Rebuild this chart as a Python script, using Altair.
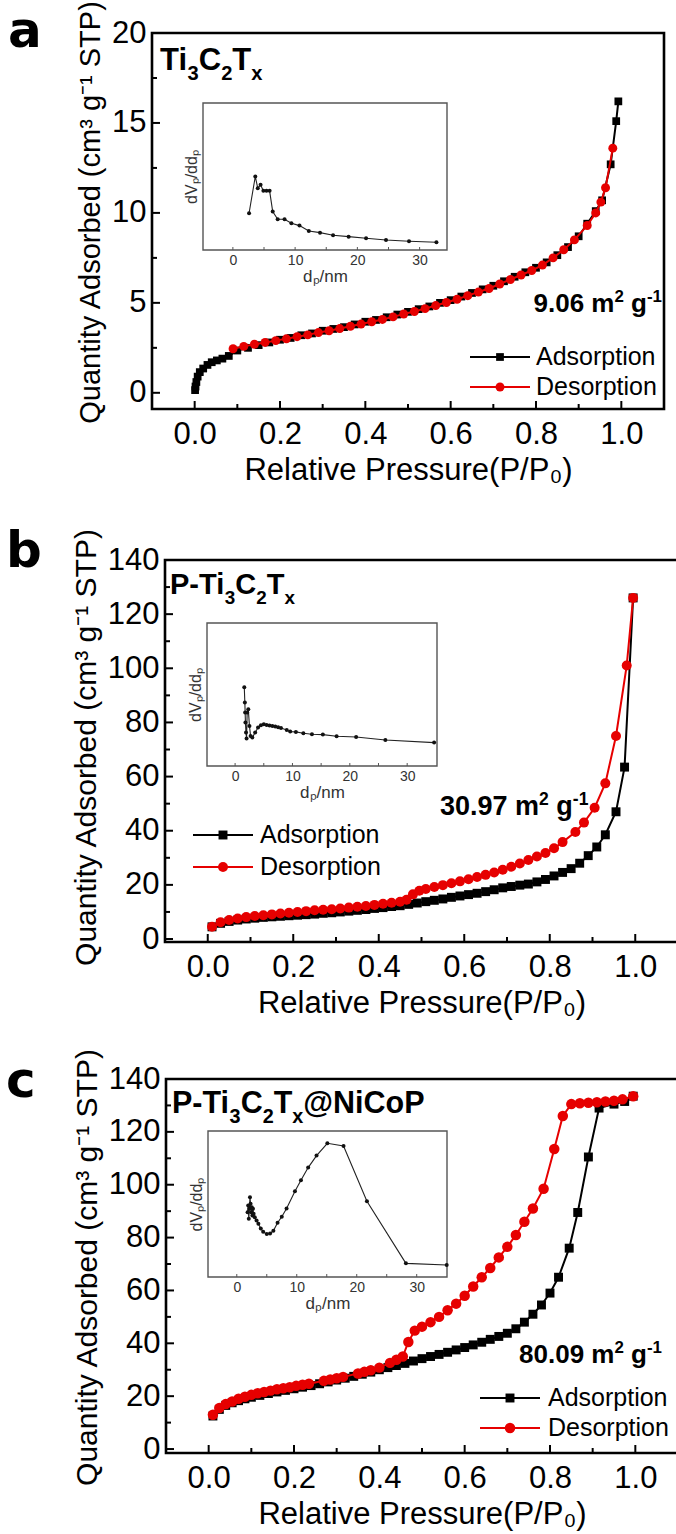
import altair as alt
import pandas as pd

# ------------------------------------------------------------------ data
A_ads_x = [0.001, 0.002, 0.004, 0.007, 0.012, 0.02, 0.03, 0.04, 0.052, 0.065, 0.08,
           0.1, 0.125, 0.15, 0.175, 0.2, 0.225, 0.25, 0.275, 0.3, 0.325, 0.35, 0.375,
           0.4, 0.425, 0.45, 0.475, 0.5, 0.525, 0.55, 0.575, 0.6, 0.625, 0.65, 0.675,
           0.7, 0.725, 0.75, 0.775, 0.8, 0.825, 0.85, 0.875, 0.9, 0.92, 0.94, 0.955,
           0.975, 0.988, 0.993]
A_ads_y = [0.15, 0.35, 0.6, 0.9, 1.15, 1.35, 1.55, 1.7, 1.8, 1.9, 2.05,
           2.35, 2.5, 2.65, 2.8, 2.95, 3.05, 3.2, 3.3, 3.45, 3.55, 3.65, 3.8,
           3.95, 4.05, 4.2, 4.35, 4.5, 4.65, 4.8, 5.0, 5.15, 5.35, 5.55, 5.75,
           5.95, 6.2, 6.45, 6.7, 6.95, 7.25, 7.65, 8.1, 8.7, 9.4, 10.1, 10.7,
           12.7, 15.1, 16.2]
A_des_x = [0.09, 0.115, 0.14, 0.165, 0.19, 0.215, 0.24, 0.265, 0.29, 0.315, 0.34,
           0.365, 0.39, 0.415, 0.44, 0.465, 0.49, 0.515, 0.54, 0.565, 0.59, 0.615,
           0.64, 0.665, 0.69, 0.715, 0.74, 0.765, 0.79, 0.815, 0.84, 0.865, 0.89,
           0.92, 0.94, 0.952, 0.963, 0.98]
A_des_y = [2.45, 2.58, 2.7, 2.8, 2.9, 3.0, 3.12, 3.22, 3.35, 3.45, 3.57,
           3.7, 3.82, 3.95, 4.08, 4.22, 4.38, 4.52, 4.68, 4.85, 5.02, 5.2,
           5.4, 5.6, 5.8, 6.05, 6.3, 6.55, 6.8, 7.1, 7.5, 7.95, 8.5,
           9.3, 10.0, 10.6, 11.4, 13.6]
A_psd_x = [2.6, 3.6, 4.0, 4.45, 4.9, 5.4, 5.9, 6.4, 7.2, 8.3, 9.4, 10.7, 12.2, 14.0,
           16.1, 18.6, 21.4, 24.6, 28.3, 32.7]
A_psd_y = [110, 220, 185, 195, 177, 177, 177, 115, 92, 92, 80, 73, 57, 52,
           44, 40, 35, 30, 26, 23]

B_ads_x = [0.01, 0.03, 0.05, 0.07, 0.09, 0.11, 0.13, 0.15, 0.17, 0.19, 0.21, 0.23,
           0.25, 0.27, 0.29, 0.31, 0.33, 0.35, 0.37, 0.39, 0.41, 0.43, 0.45, 0.47,
           0.49, 0.51, 0.53, 0.55, 0.57, 0.59, 0.61, 0.63, 0.65, 0.67, 0.69, 0.71,
           0.73, 0.75, 0.77, 0.79, 0.81, 0.83, 0.85, 0.87, 0.89, 0.91, 0.93,
           0.955, 0.975, 0.995]
B_ads_y = [4.5, 5.8, 6.5, 7.0, 7.4, 7.7, 8.0, 8.2, 8.4, 8.6, 8.8, 9.0,
           9.2, 9.5, 9.7, 10.0, 10.3, 10.6, 10.9, 11.3, 11.6, 12.0, 12.3, 12.8,
           13.3, 13.8, 14.3, 14.8, 15.4, 15.9, 16.4, 16.9, 17.5, 18.2, 18.9, 19.4,
           19.9, 20.3, 21.1, 22.0, 23.3, 24.6, 26.0, 28.0, 30.8, 34.0, 38.5,
           47.0, 63.5, 126.0]
B_des_x = [0.01, 0.03, 0.05, 0.07, 0.09, 0.11, 0.13, 0.15, 0.17, 0.19, 0.21, 0.23,
           0.25, 0.27, 0.29, 0.31, 0.33, 0.35, 0.37, 0.39, 0.41, 0.43, 0.45,
           0.465, 0.48, 0.495, 0.51, 0.53, 0.55, 0.57, 0.59, 0.61, 0.63, 0.65,
           0.67, 0.69, 0.71, 0.73, 0.75, 0.77, 0.79, 0.81, 0.83, 0.86, 0.88,
           0.905, 0.93, 0.955, 0.98, 0.995]
B_des_y = [4.5, 6.2, 7.0, 7.6, 8.1, 8.5, 8.8, 9.1, 9.4, 9.7, 10.0, 10.3,
           10.6, 10.8, 11.0, 11.3, 11.6, 11.9, 12.2, 12.6, 13.0, 13.4, 13.8,
           14.5, 16.5, 17.8, 18.5, 19.2, 19.9, 20.6, 21.3, 22.1, 22.9, 23.7,
           24.6, 25.6, 26.7, 27.9, 29.2, 30.5, 31.8, 33.5, 35.8, 39.5, 43.0,
           48.5, 57.5, 75.0, 101.0, 126.0]
B_psd_x = [1.6, 1.7, 1.75, 1.8, 1.9, 2.0, 2.1, 2.3, 2.5, 2.7, 3.0, 3.5, 4.0, 4.5, 5.0,
           5.5, 6.0, 6.5, 7.0, 7.5, 8.0, 9.0, 9.6, 10.6, 11.9, 13.4, 15.3, 17.7,
           21.1, 26.2, 34.7]
B_psd_y = [236, 190, 160, 130, 100, 82, 160, 170, 120, 90, 85, 100, 115, 122, 125,
           123, 121, 120, 118, 116, 114, 108, 103, 102, 98, 95, 94, 89,
           87, 78, 70]

C_ads_x = [0.01, 0.025, 0.04, 0.055, 0.07, 0.085, 0.1, 0.12, 0.14, 0.16, 0.18, 0.2,
           0.22, 0.24, 0.26, 0.28, 0.3, 0.32, 0.34, 0.36, 0.38, 0.4, 0.42, 0.44,
           0.46, 0.48, 0.5, 0.52, 0.54, 0.56, 0.58, 0.6, 0.62, 0.64, 0.66, 0.68,
           0.7, 0.72, 0.74, 0.76, 0.78, 0.8, 0.82, 0.845, 0.865, 0.89, 0.915,
           0.95, 0.975, 0.995]
C_ads_y = [12.5, 15.0, 16.5, 17.5, 18.3, 19.0, 19.6, 20.3, 21.0, 21.6, 22.2, 22.8,
           23.4, 24.0, 24.7, 25.4, 26.1, 26.8, 27.5, 28.3, 29.1, 30.0, 30.8, 31.6,
           32.4, 33.3, 34.2, 35.0, 35.8, 36.6, 37.5, 38.4, 39.4, 40.4, 41.5, 42.6,
           43.8, 45.5, 48.0, 51.0, 54.5, 59.0, 65.0, 76.0, 89.5, 110.5, 129.0,
           130.5, 131.5, 133.5]
C_des_x = [0.01, 0.025, 0.04, 0.055, 0.07, 0.085, 0.1, 0.115, 0.13, 0.145, 0.16,
           0.175, 0.19, 0.205, 0.22, 0.235, 0.27, 0.285, 0.3, 0.315, 0.35, 0.365,
           0.38, 0.4, 0.425, 0.44, 0.455, 0.468, 0.483, 0.5, 0.52, 0.54, 0.56,
           0.58, 0.6, 0.62, 0.64, 0.66, 0.68, 0.7, 0.72, 0.74, 0.76, 0.785, 0.81,
           0.83, 0.85, 0.87, 0.89, 0.91, 0.93, 0.95, 0.97, 0.995]
C_des_y = [13.0, 15.5, 17.0, 18.0, 19.0, 19.8, 20.5, 21.1, 21.6, 22.1, 22.6,
           23.0, 23.4, 23.9, 24.3, 24.7, 25.8, 26.3, 26.8, 27.3, 28.6, 29.2,
           29.8, 30.8, 32.6, 33.8, 35.0, 40.5, 44.8, 46.3, 48.0, 50.0, 52.5,
           55.0, 58.0, 61.5, 65.0, 68.5, 72.5, 76.5, 81.0, 86.0, 91.0, 98.5, 113.5,
           126.0, 130.5, 130.8, 131.0, 131.2, 131.5, 131.8, 132.3, 133.5]
C_psd_x = [1.8, 1.9, 2.0, 2.1, 2.2, 2.3, 2.4, 2.5, 2.6, 2.7, 2.8, 3.0, 3.3, 3.6, 4.0,
           4.4, 5.0, 5.55, 6.1, 6.8, 7.5, 8.3, 9.7, 10.7, 11.9, 13.3, 15.1, 17.8,
           21.7, 28.2, 35.0]
C_psd_y = [195, 215, 175, 205, 240, 220, 195, 210, 185, 205, 190, 180, 170, 160, 146,
           136, 129, 131, 139, 163, 181, 206, 258, 291, 329, 365, 402, 394,
           228, 41, 36]

X_TICKS_MAJOR = [0.0, 0.2, 0.4, 0.6, 0.8, 1.0]
X_TICKS_MINOR = [0.1, 0.3, 0.5, 0.7, 0.9]
A_Y_MAJOR = [0, 5, 10, 15, 20]
A_Y_MINOR = [2.5, 7.5, 12.5, 17.5]
BC_Y_MAJOR = [0, 20, 40, 60, 80, 100, 120, 140]
BC_Y_MINOR = [10, 30, 50, 70, 90, 110, 130]
INSET_X_LABELS = [0, 10, 20, 30]
INSET_X_TICKS = [0, 5, 10, 15, 20, 25, 30]
LEGEND_LABELS = ["Adsorption", "Desorption"]
PANEL_LETTERS = ["a", "b", "c"]

# ------------------------------------------------------------------ style
FONT = "Liberation Sans"
RED = "#e60000"
FULL_W, FULL_H = 676, 1534
ONE = alt.Data(values=[{}])

REG_W = {"0": 556, "1": 556, "2": 556, "3": 556, "4": 556, "5": 556, "6": 556,
         "7": 556, "8": 556, "9": 556, ".": 278, " ": 278, "m": 833, "g": 556,
         "T": 611, "i": 222, "C": 722, "P": 667, "-": 333, "@": 1015, "N": 722,
         "o": 556, "x": 500}
BOLD_W = {"0": 556, "1": 556, "2": 556, "3": 556, "4": 556, "5": 556, "6": 556,
          "7": 556, "8": 556, "9": 556, ".": 278, " ": 278, "m": 889, "g": 611,
          "T": 611, "i": 278, "C": 722, "P": 667, "-": 333, "@": 975, "N": 722,
          "o": 611, "x": 556}


def text_width(s, size, bold):
    tab = BOLD_W if bold else REG_W
    return sum(tab.get(ch, 556) for ch in s) / 1000.0 * size


def rich(segments, x, y, size, bold=True, align="left"):
    parts, total = [], 0.0
    for txt, kind in segments:
        fs = size if kind == "n" else size * 0.65
        lead = len(txt) - len(txt.lstrip(" "))
        core = txt.strip(" ")
        gap = text_width(" " * lead, fs, bold)
        w = text_width(core, fs, bold)
        parts.append((core, kind, fs, gap, w))
        total += gap + w
    cx = x if align == "left" else x - total
    out = []
    for core, kind, fs, gap, w in parts:
        cx += gap
        dy = 0 if kind == "n" else (size * 0.33 if kind == "sub" else -size * 0.38)
        out.append(
            alt.Chart(ONE).mark_text(
                text=core, font=FONT, fontSize=fs,
                fontWeight="bold" if bold else "normal",
                align="left", baseline="alphabetic", color="black",
            ).encode(x=alt.value(cx), y=alt.value(y + dy))
        )
        cx += w
    return out


def legend(x0, x1, xt, ys, sq, ci):
    out = []
    specs = [(LEGEND_LABELS[0], "black", "square", sq),
             (LEGEND_LABELS[1], RED, "circle", ci)]
    for (lab, col, shp, sz), y in zip(specs, ys):
        out.append(alt.Chart(ONE).mark_rule(color=col, strokeWidth=2.2).encode(
            x=alt.value(x0), x2=alt.value(x1), y=alt.value(y)))
        out.append(alt.Chart(ONE).mark_point(shape=shp, filled=True, size=sz, color=col,
                                             opacity=1).encode(
            x=alt.value((x0 + x1) / 2), y=alt.value(y)))
        out.append(alt.Chart(ONE).mark_text(text=lab, font=FONT, fontSize=25, align="left",
                                            baseline="middle", color="black").encode(
            x=alt.value(xt), y=alt.value(y)))
    return out


def main_panel(ads_x, ads_y, des_x, des_y, xr, yr, ydom, ymaj, ymin, sq, ci,
               title_size, title_y):
    xs = alt.Scale(domain=[-0.1, 1.1], range=xr, nice=False, zero=False)
    ys = alt.Scale(domain=ydom, range=yr, nice=False, zero=False)
    xax = alt.Axis(orient="bottom", offset=yr[0] - FULL_H, values=X_TICKS_MAJOR,
                   format=".1f", ticks=False, domain=False, grid=False,
                   labelFont=FONT, labelFontSize=31, labelColor="black",
                   labelPadding=10, labelFlush=False, labelOverlap=False,
                   title="Relative Pressure(P/P\u2080)", titleFont=FONT,
                   titleFontSize=31, titleFontWeight="normal", titleColor="black",
                   titlePadding=6)
    yax = alt.Axis(orient="left", offset=-xr[0], values=ymaj, ticks=False,
                   domain=False, grid=False, labelFont=FONT, labelFontSize=31,
                   labelColor="black", labelPadding=6, labelFlush=False,
                   labelOverlap=False,
                   title="Quantity Adsorbed (cm\u00b3 g\u207b\u00b9 STP)",
                   titleFont=FONT, titleFontSize=title_size, titleY=title_y,
                   titleFontWeight="normal", titleColor="black", titlePadding=6)

    def X():
        return alt.X("x:Q", scale=xs, axis=xax)

    def Y():
        return alt.Y("y:Q", scale=ys, axis=yax)

    frame = alt.Chart(ONE).mark_rect(fill=None, stroke="black", strokeWidth=2.6).encode(
        x=alt.X(datum=-0.1, scale=xs, axis=xax), x2=alt.X2(datum=1.1),
        y=alt.Y(datum=ydom[0], scale=ys, axis=yax), y2=alt.Y2(datum=ydom[1]))
    xt_major = alt.Chart(pd.DataFrame({"x": X_TICKS_MAJOR})).mark_rule(
        color="black", strokeWidth=2).encode(x=X(), y=alt.value(yr[0]),
                                             y2=alt.value(yr[0] - 8))
    xt_minor = alt.Chart(pd.DataFrame({"x": X_TICKS_MINOR})).mark_rule(
        color="black", strokeWidth=2).encode(x=X(), y=alt.value(yr[0]),
                                             y2=alt.value(yr[0] - 5))
    yt_major = alt.Chart(pd.DataFrame({"y": ymaj})).mark_rule(
        color="black", strokeWidth=2).encode(y=Y(), x=alt.value(xr[0]),
                                             x2=alt.value(xr[0] + 8))
    yt_minor = alt.Chart(pd.DataFrame({"y": ymin})).mark_rule(
        color="black", strokeWidth=2).encode(y=Y(), x=alt.value(xr[0]),
                                             x2=alt.value(xr[0] + 5))
    ads = pd.DataFrame({"x": ads_x, "y": ads_y})
    des = pd.DataFrame({"x": des_x, "y": des_y})
    ads_line = alt.Chart(ads).mark_line(color="black", strokeWidth=2).encode(x=X(), y=Y())
    ads_pts = alt.Chart(ads).mark_point(shape="square", filled=True, size=sq,
                                        color="black", opacity=1).encode(x=X(), y=Y())
    des_line = alt.Chart(des).mark_line(color=RED, strokeWidth=2).encode(x=X(), y=Y())
    des_pts = alt.Chart(des).mark_point(shape="circle", filled=True, size=ci,
                                        color=RED, opacity=1).encode(x=X(), y=Y())
    return alt.layer(frame, xt_major, xt_minor, yt_major, yt_minor,
                     ads_line, ads_pts, des_line, des_pts)


def inset_panel(px, py, xr, yr, xdom, ydom):
    xs = alt.Scale(domain=xdom, range=xr, nice=False, zero=False)
    ys = alt.Scale(domain=ydom, range=yr, nice=False, zero=False)
    xax = alt.Axis(orient="bottom", offset=yr[0] - FULL_H, values=INSET_X_LABELS,
                   ticks=False, domain=False, grid=False, labelFont=FONT,
                   labelFontSize=14, labelColor="#333333", labelPadding=3,
                   labelFlush=False, labelOverlap=False,
                   title="d\u209a/nm", titleFont=FONT, titleFontSize=17,
                   titleFontWeight="normal", titleColor="#333333", titlePadding=1)
    yax = alt.Axis(orient="left", offset=-xr[0], labels=False, ticks=False,
                   domain=False, grid=False, title="dV\u209a/dd\u209a",
                   titleFont=FONT, titleFontSize=16, titleFontWeight="normal",
                   titleColor="#333333", titlePadding=4)

    def X():
        return alt.X("x:Q", scale=xs, axis=xax)

    def Y():
        return alt.Y("y:Q", scale=ys, axis=yax)

    frame = alt.Chart(ONE).mark_rect(fill=None, stroke="#555555", strokeWidth=1.4).encode(
        x=alt.X(datum=xdom[0], scale=xs, axis=xax), x2=alt.X2(datum=xdom[1]),
        y=alt.Y(datum=ydom[0], scale=ys, axis=yax), y2=alt.Y2(datum=ydom[1]))
    ticks = alt.Chart(pd.DataFrame({"x": INSET_X_TICKS})).mark_rule(
        color="#555555", strokeWidth=1).encode(x=X(), y=alt.value(yr[0]),
                                               y2=alt.value(yr[0] - 3))
    d = pd.DataFrame({"x": px, "y": py})
    line = alt.Chart(d).mark_line(color="#222222", strokeWidth=1.1, clip=True).encode(
        x=X(), y=Y())
    pts = alt.Chart(d).mark_point(shape="circle", filled=True, size=16, color="#111111",
                                  opacity=1, clip=True).encode(x=X(), y=Y())
    return alt.layer(frame, ticks, line, pts)


def letter(ch, x, y):
    return alt.Chart(ONE).mark_text(text=ch, font="DejaVu Sans", fontSize=50,
                                    fontWeight="bold", align="left",
                                    baseline="alphabetic", color="black").encode(
        x=alt.value(x), y=alt.value(y))


layers = []
# ---- panel a
layers.append(main_panel(A_ads_x, A_ads_y, A_des_x, A_des_y, [152, 664], [409, 33],
                         [-0.9, 20], A_Y_MAJOR, A_Y_MINOR, 60, 80, 29, 212))
layers.append(inset_panel(A_psd_x, A_psd_y, [203, 447], [250, 103], [-4.8, 34.4],
                          [0, 440]))
# ---- panel b
layers.append(main_panel(B_ads_x, B_ads_y, B_des_x, B_des_y, [165, 678], [942, 560],
                         [-1.1, 140], BC_Y_MAJOR, BC_Y_MINOR, 80, 100, 30, 747))
layers.append(inset_panel(B_psd_x, B_psd_y, [207, 437], [766, 623], [-4.9, 35.2],
                          [0, 428]))
# ---- panel c
layers.append(main_panel(C_ads_x, C_ads_y, C_des_x, C_des_y, [166, 678], [1453, 1079],
                         [-1.5, 140], BC_Y_MAJOR, BC_Y_MINOR, 80, 110, 30, 1267))
layers.append(inset_panel(C_psd_x, C_psd_y, [208, 447], [1277, 1131], [-4.8, 35.05],
                          [0, 439]))

deco = []
deco.append(letter(PANEL_LETTERS[0], 8, 47))
deco.append(letter(PANEL_LETTERS[1], 6, 567))
deco.append(letter(PANEL_LETTERS[2], 6, 1097))
deco += rich([("Ti", "n"), ("3", "sub"), ("C", "n"), ("2", "sub"), ("T", "n"), ("x", "sub")],
             160, 70, 31)
deco += rich([("9.06 m", "n"), ("2", "sup"), (" g", "n"), ("-1", "sup")], 662, 312, 26,
             align="right")
deco += legend(470, 530, 536, [357, 387], 60, 80)

deco += rich([("P-Ti", "n"), ("3", "sub"), ("C", "n"), ("2", "sub"), ("T", "n"), ("x", "sub")],
             170, 594, 29)
deco += rich([("30.97 m", "n"), ("2", "sup"), (" g", "n"), ("-1", "sup")], 440, 815, 27)
deco += legend(193, 253, 260, [835, 867], 80, 100)

deco += rich([("P-Ti", "n"), ("3", "sub"), ("C", "n"), ("2", "sub"), ("T", "n"), ("x", "sub"),
              ("@NiCoP", "n")], 172, 1113, 30.5)
deco += rich([("80.09 m", "n"), ("2", "sup"), (" g", "n"), ("-1", "sup")], 662, 1363, 26,
             align="right")
deco += legend(480, 540, 548, [1398, 1428], 80, 110)

chart = alt.layer(*layers, *deco).resolve_scale(
    x="independent", y="independent"
).properties(
    width=FULL_W, height=FULL_H, padding=0, background="white",
    autosize=alt.AutoSizeParams(type="none"),
).configure_view(stroke=None)

chart.save("out.html", embed_options={"renderer": "svg", "actions": False})
